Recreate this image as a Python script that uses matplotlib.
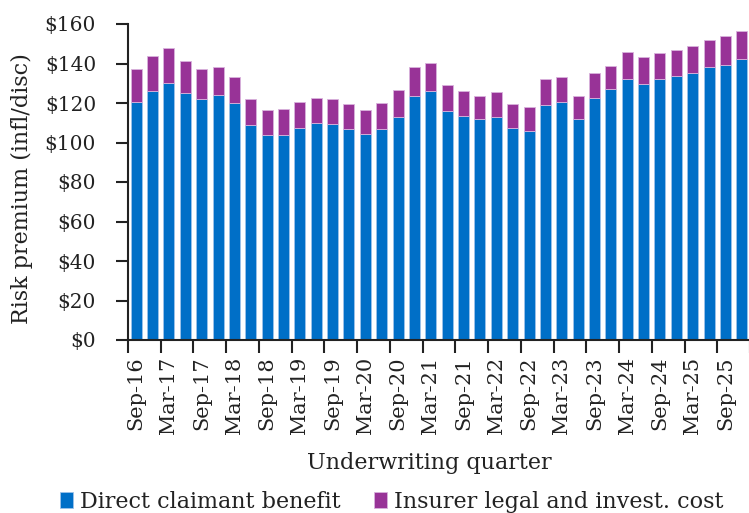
import matplotlib
matplotlib.use('Agg')
import matplotlib.pyplot as plt
import numpy as np

# quarters Sep-16 .. Dec-25
quarters = ['Sep-16', 'Dec-16', 'Mar-17', 'Jun-17', 'Sep-17', 'Dec-17', 'Mar-18', 'Jun-18',
            'Sep-18', 'Dec-18', 'Mar-19', 'Jun-19', 'Sep-19', 'Dec-19', 'Mar-20', 'Jun-20',
            'Sep-20', 'Dec-20', 'Mar-21', 'Jun-21', 'Sep-21', 'Dec-21', 'Mar-22', 'Jun-22',
            'Sep-22', 'Dec-22', 'Mar-23', 'Jun-23', 'Sep-23', 'Dec-23', 'Mar-24', 'Jun-24',
            'Sep-24', 'Dec-24', 'Mar-25', 'Jun-25', 'Sep-25', 'Dec-25']
direct = [120.3, 126.1, 130.0, 125.2, 122.2, 123.9, 119.8, 108.7,
          103.6, 104.0, 107.2, 109.7, 109.5, 106.6, 104.1, 106.8,
          112.7, 123.7, 125.9, 115.7, 113.6, 111.7, 113.1, 107.2,
          106.0, 119.1, 120.3, 111.7, 122.7, 126.9, 131.9, 129.4,
          132.4, 133.5, 135.2, 138.1, 139.4, 142.1]
total = [137.2, 143.6, 147.7, 141.3, 137.0, 138.2, 133.2, 122.2,
         116.5, 116.8, 120.5, 122.5, 122.2, 119.3, 116.6, 119.8,
         126.7, 138.1, 140.4, 129.1, 126.1, 123.5, 125.6, 119.3,
         117.8, 132.3, 133.2, 123.7, 135.2, 138.9, 145.6, 143.1,
         145.5, 146.7, 148.9, 152.1, 153.7, 156.6]
legal = [t - d for t, d in zip(total, direct)]

blue = '#006FC7'
purple = '#983397'
ink = '#222222'

plt.rcParams['font.family'] = ['DejaVu Serif']
fig = plt.figure(figsize=(7.49, 5.13), dpi=100)
ax = fig.add_axes([128 / 749, 1 - 340 / 513, 622 / 749, 316 / 513])

x = np.arange(len(quarters))
ax.bar(x, direct, width=0.67, color=blue, edgecolor='#9ec3ea', linewidth=0.6,
       label='Direct claimant benefit')
ax.bar(x, legal, bottom=direct, width=0.67, color=purple, edgecolor='#d9b3dc',
       linewidth=0.6, label='Insurer legal and invest. cost')

ax.set_xlim(-0.5, len(quarters) - 0.5)
ax.set_ylim(0, 160)
ax.set_yticks(np.arange(0, 161, 20))
ax.set_yticklabels(['$%d' % v for v in np.arange(0, 161, 20)])

ax.set_xticks(np.arange(-0.5, len(quarters), 2))
ax.set_xticklabels([])
ax.set_xticks(x[::2], minor=True)
ax.set_xticklabels(quarters[::2], minor=True, rotation=90)
ax.tick_params(axis='x', which='major', length=9, width=1.5, color=ink)
ax.tick_params(axis='x', which='minor', length=0, labelsize=15, pad=12, colors=ink)
ax.tick_params(axis='y', length=9, width=1.5, color=ink, labelsize=14.5,
               labelcolor=ink, pad=14)

for s in ['top', 'right']:
    ax.spines[s].set_visible(False)
for s in ['left', 'bottom']:
    ax.spines[s].set_linewidth(1.5)
    ax.spines[s].set_color(ink)

ax.set_ylabel('Risk premium (infl/disc)', fontsize=16, color=ink)
ax.yaxis.set_label_coords(-0.153, 0.48)
ax.set_xlabel('Underwriting quarter', fontsize=16, color=ink)
ax.xaxis.set_label_coords(0.485, -0.355)

handles, labels = ax.get_legend_handles_labels()
fig.legend(handles, labels, loc='center', bbox_to_anchor=(0.523, 0.022), ncol=2,
           frameon=False, fontsize=16, handlelength=0.6, handleheight=0.68,
           handletextpad=0.32, columnspacing=1.5, labelcolor=ink, borderpad=0)

fig.savefig('out.png', dpi=100)
